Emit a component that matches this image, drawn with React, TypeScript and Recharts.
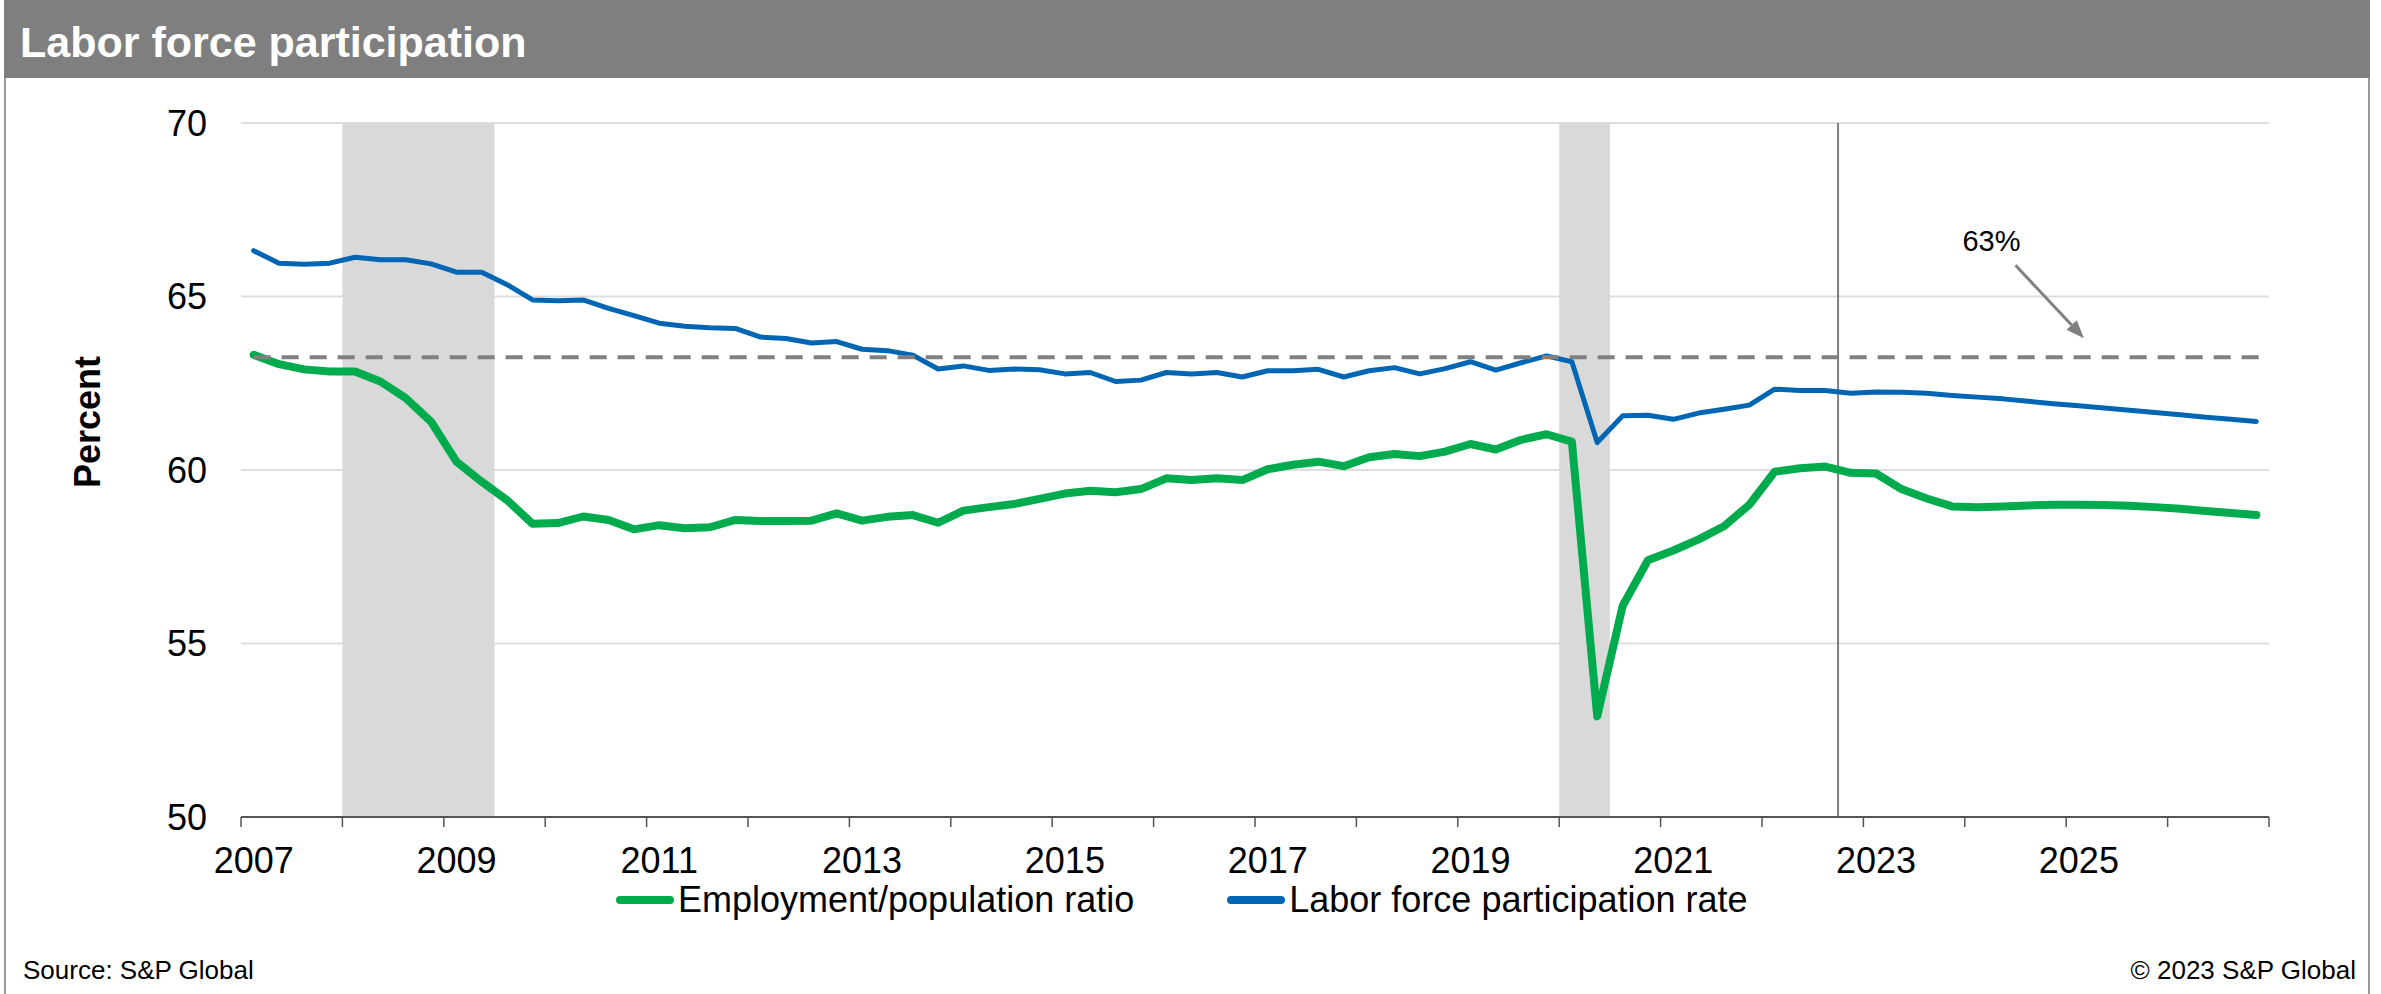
import {
  LineChart,
  Line,
  XAxis,
  YAxis,
  CartesianGrid,
  ReferenceArea,
  ReferenceLine,
} from "recharts";

const GREEN = "#00ab4e";
const BLUE = "#0066b3";
const FONT = "'Liberation Sans', Arial, sans-serif";

const YEARS = [
  2007, 2008, 2009, 2010, 2011, 2012, 2013, 2014, 2015, 2016, 2017, 2018,
  2019, 2020, 2021, 2022, 2023, 2024, 2025, 2026,
];
const QUARTERS = YEARS.flatMap((y) => [`${y} Q1`, `${y} Q2`, `${y} Q3`, `${y} Q4`]);
const LABEL_YEARS = [2007, 2009, 2011, 2013, 2015, 2017, 2019, 2021, 2023, 2025];
const Y_TICKS = [50, 55, 60, 65, 70];

// quarterly, 2007 Q1 .. 2026 Q4
const EMP_POP = [
  63.32, 63.05, 62.9, 62.84, 62.84, 62.55, 62.07, 61.39, 60.24, 59.66, 59.13, 58.45,
  58.47, 58.66, 58.56, 58.29, 58.41, 58.32, 58.35, 58.56, 58.53, 58.53, 58.54, 58.75,
  58.54, 58.65, 58.7, 58.48, 58.83, 58.93, 59.02, 59.17, 59.32, 59.4, 59.36, 59.45,
  59.76, 59.71, 59.76, 59.71, 60.02, 60.15, 60.24, 60.11, 60.37, 60.46, 60.4, 60.53,
  60.75, 60.59, 60.87, 61.03, 60.82, 52.9, 56.08, 57.4, 57.68, 58.0, 58.38, 59.0,
  59.95, 60.05, 60.1, 59.92, 59.9, 59.45, 59.18, 58.95, 58.93, 58.95, 58.98, 59.0,
  59.0, 58.99, 58.97, 58.93, 58.88, 58.82, 58.76, 58.7,
];
const LFPR = [
  66.32, 65.96, 65.93, 65.96, 66.13, 66.06, 66.06, 65.94, 65.7, 65.7, 65.34, 64.9,
  64.88, 64.9, 64.66, 64.45, 64.23, 64.14, 64.1, 64.08, 63.83, 63.79, 63.66, 63.7,
  63.48, 63.44, 63.31, 62.91, 63.0, 62.87, 62.91, 62.89, 62.77, 62.81, 62.55, 62.59,
  62.81, 62.77, 62.81, 62.68, 62.86, 62.86, 62.9, 62.68, 62.86, 62.95, 62.77, 62.92,
  63.12, 62.88, 63.09, 63.29, 63.12, 60.79, 61.56, 61.58, 61.46, 61.64, 61.75, 61.87,
  62.33, 62.29, 62.29, 62.21, 62.25, 62.24, 62.21, 62.15, 62.1, 62.05, 61.98, 61.91,
  61.85, 61.79, 61.72, 61.66, 61.59, 61.52, 61.46, 61.4,
];

const RECESSIONS = [
  { from: "2008 Q1", to: "2009 Q3" },
  { from: "2020 Q1", to: "2020 Q3" },
];
const FORECAST_START = "2022 Q4";
const TARGET = 63.25;
const TARGET_LABEL = "63%";

const SERIES = [
  { key: "emp", name: "Employment/population ratio", color: GREEN, width: 8 },
  { key: "lfpr", name: "Labor force participation rate", color: BLUE, width: 5 },
];

const data = QUARTERS.map((q, i) => ({ q, x: i + 0.5, emp: EMP_POP[i], lfpr: LFPR[i] }));
const X_TICKS = [...YEARS, 2027].map((_, i) => i * 4);
const qIndex = (q: string) => QUARTERS.indexOf(q);

const W = 2381;
const H = 994;
const PLOT_LEFT = 241;
const PLOT_RIGHT = 2269;
const BAND = (PLOT_RIGHT - PLOT_LEFT) / QUARTERS.length;

const XTick = ({ x, y, payload }: any) => {
  const year = YEARS[payload.value / 4];
  if (!LABEL_YEARS.includes(year)) return <g />;
  return (
    <text x={x + BAND / 2} y={y} dy="0.71em" textAnchor="middle" fontSize={36} fill="#000">
      {year}
    </text>
  );
};

const Arrow = (p: any) => {
  const { x1, y1, x2, y2 } = p;
  const dx = x2 - x1;
  const dy = y2 - y1;
  const len = Math.sqrt(dx * dx + dy * dy);
  const ux = dx / len;
  const uy = dy / len;
  const head = 18;
  const half = 7;
  const bx = x2 - ux * head;
  const by = y2 - uy * head;
  return (
    <g>
      <line x1={x1} y1={y1} x2={bx} y2={by} stroke="#808080" strokeWidth={3} />
      <polygon
        points={`${x2},${y2} ${bx - uy * half},${by + ux * half} ${bx + uy * half},${by - ux * half}`}
        fill="#808080"
      />
      <text x={x1 - 24} y={y1 - 14} textAnchor="middle" fontSize={29} fill="#000">
        {TARGET_LABEL}
      </text>
    </g>
  );
};

export default function App() {
  return (
    <div
      style={{
        position: "absolute",
        left: 0,
        top: 0,
        width: W,
        height: H,
        overflow: "hidden",
        background: "#fff",
        fontFamily: FONT,
      }}
    >
      <div
        style={{
          position: "absolute",
          left: 4,
          top: 0,
          width: 2366,
          height: H,
          borderLeft: "2px solid #9a9a9a",
          borderRight: "2px solid #9a9a9a",
          boxSizing: "border-box",
        }}
      />
      <div
        style={{
          position: "absolute",
          left: 4,
          top: 0,
          width: 2366,
          height: 78,
          background: "#7f7f7f",
        }}
      />
      <div
        style={{
          position: "absolute",
          left: 20,
          top: 20,
          lineHeight: "44px",
          fontSize: 43,
          fontWeight: "bold",
          color: "#fff",
          whiteSpace: "nowrap",
        }}
      >
        Labor force participation
      </div>

      <div style={{ position: "absolute", left: 0, top: 0 }}>
        <LineChart
          width={W}
          height={H}
          data={data}
          margin={{ top: 123, right: W - PLOT_RIGHT, left: 0, bottom: 0 }}
        >
          <CartesianGrid vertical={false} stroke="#dedede" strokeWidth={2} />
          {RECESSIONS.map((r) => (
            <ReferenceArea
              key={r.from}
              x1={qIndex(r.from)}
              x2={qIndex(r.to)}
              fill="#d9d9d9"
              fillOpacity={1}
              stroke="none"
            />
          ))}
          <ReferenceLine x={qIndex(FORECAST_START)} stroke="#7f7f7f" strokeWidth={2} />
          <XAxis
            type="number"
            dataKey="x"
            domain={[0, QUARTERS.length]}
            ticks={X_TICKS}
            interval={0}
            height={H - 817}
            tickSize={10}
            tickMargin={20}
            axisLine={{ stroke: "#555", strokeWidth: 2 }}
            tickLine={{ stroke: "#555", strokeWidth: 1.5 }}
            tick={<XTick />}
          />
          <YAxis
            domain={[50, 70]}
            ticks={Y_TICKS}
            width={PLOT_LEFT}
            axisLine={false}
            tickLine={false}
            tickSize={0}
            tickMargin={34}
            tick={{ fontSize: 36, fill: "#000" }}
          />
          {SERIES.map((s) => (
            <Line
              key={s.key}
              type="linear"
              dataKey={s.key}
              name={s.name}
              stroke={s.color}
              strokeWidth={s.width}
              strokeLinecap="round"
              strokeLinejoin="round"
              dot={false}
              activeDot={false}
              isAnimationActive={false}
            />
          ))}
          <ReferenceLine
            segment={[
              { x: 0.5, y: TARGET },
              { x: 79.75, y: TARGET },
            ]}
            stroke="#808080"
            strokeWidth={4}
            strokeDasharray="17 11"
          />
          <ReferenceLine
            segment={[
              { x: 70.0, y: 65.9 },
              { x: 72.7, y: 63.8 },
            ]}
            shape={Arrow}
          />
        </LineChart>
      </div>

      <div
        style={{
          position: "absolute",
          left: 88,
          top: 422,
          transform: "translate(-50%, -50%) rotate(-90deg)",
          fontSize: 36,
          fontWeight: "bold",
          color: "#000",
          whiteSpace: "nowrap",
          lineHeight: "36px",
        }}
      >
        Percent
      </div>

      <div
        style={{
          position: "absolute",
          left: 616,
          top: 882,
          height: 36,
          display: "flex",
          alignItems: "center",
          fontSize: 36,
          lineHeight: "36px",
          color: "#000",
          whiteSpace: "nowrap",
        }}
      >
        {SERIES.map((s, i) => (
          <div
            key={s.key}
            style={{ display: "flex", alignItems: "center", marginLeft: i === 0 ? 0 : 93 }}
          >
            <span
              style={{
                display: "inline-block",
                width: 58,
                height: 8,
                borderRadius: 4,
                background: s.color,
                marginRight: 4,
              }}
            />
            <span>{s.name}</span>
          </div>
        ))}
      </div>

      <div
        style={{
          position: "absolute",
          left: 23,
          top: 956,
          fontSize: 26,
          lineHeight: "28px",
          color: "#000",
          whiteSpace: "nowrap",
        }}
      >
        Source: S&amp;P Global
      </div>
      <div
        style={{
          position: "absolute",
          right: 25,
          top: 956,
          fontSize: 26,
          lineHeight: "28px",
          color: "#000",
          whiteSpace: "nowrap",
        }}
      >
        © 2023 S&amp;P Global
      </div>
    </div>
  );
}
